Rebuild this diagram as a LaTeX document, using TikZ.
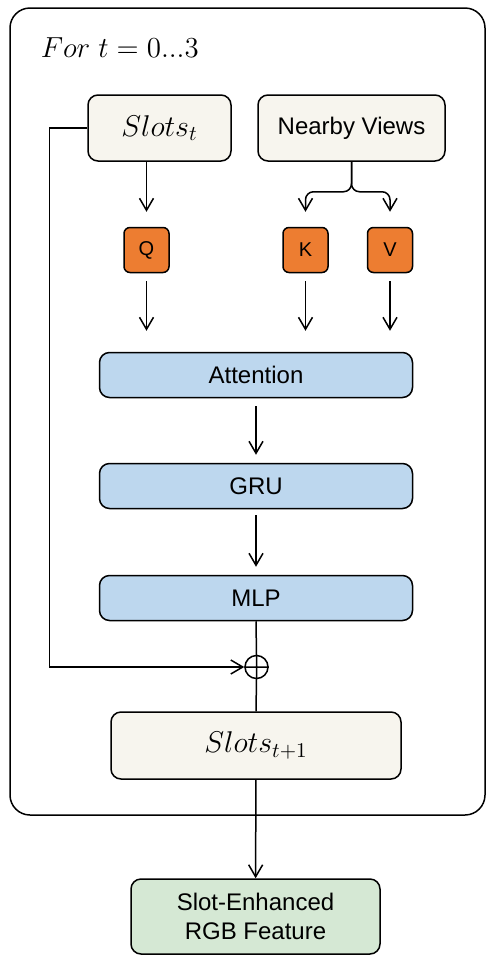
\documentclass[tikz,border=0pt]{standalone}
\usepackage{fix-cm}
\usepackage{fontspec}
\setmainfont{Liberation Sans}
\usetikzlibrary{arrows.meta}
\definecolor{cream}{HTML}{F7F5EE}
\definecolor{lblue}{HTML}{BDD7EE}
\definecolor{orng}{HTML}{ED7D31}
\definecolor{lgreen}{HTML}{D5E8D4}
\begin{document}
\begin{tikzpicture}[x=0.5pt, y=-0.5pt, line width=0.75pt,
>={Straight Barb[length=6pt,width=7pt]},
box/.style = {draw, rounded corners=5pt, align=center,
	font=\fontsize{12}{14.5}\selectfont},
inbox/.style = {box, fill=cream, minimum height=33pt},
layer/.style = {box, fill=lblue, minimum width=156.5pt, minimum height=22.5pt},
token/.style = {draw, rounded corners=3pt, fill=orng, minimum size=22.5pt,
	inner sep=0pt, font=\fontsize{10}{11}\selectfont}]
\useasboundingbox (0,0) rectangle (498,970);
\draw[rounded corners=10pt] (10,8) rectangle (485,815);
\node[anchor=base west, inner sep=0pt, font=\fontsize{14.5}{16}\selectfont] (title) at (40,57) {$For\ t=0...3$};
\node[inbox, minimum width=71.5pt] (slots) at (159.5,128) {\fontsize{15}{17}\selectfont$Slots_t$};
\node[inbox, minimum width=93.5pt] (views) at (351.5,128) {Nearby Views};
\node[token] (q) at (146.5,250) {Q};
\node[token] (k) at (305.5,250) {K};
\node[token] (v) at (390,250) {V};
\node[layer] (attn) at (256,375) {Attention};
\node[layer] (gru) at (256,486) {GRU};
\node[layer] (mlp) at (256,598) {MLP};
\node[circle, draw, minimum size=11.5pt, inner sep=0pt] (plus) at (256.5,667) {};
\node[inbox, minimum width=145pt, minimum height=33.5pt] (next) at (256,745.5) {\fontsize{15}{17}\selectfont$Slots_{t+1}$};
\node[box, fill=lgreen, minimum width=124.5pt, minimum height=37.5pt] (feat) at (255.5,916.5) {Slot-Enhanced\\RGB Feature};
% query and key/value branches
\draw[->, shorten >=7.5pt] (slots.south -| q) -- (q.north);
\draw[->, rounded corners=4pt, shorten >=7.5pt] (views.south) -- ++(0,30) -| (k.north);
\draw[->, rounded corners=4pt, shorten >=7.5pt] (views.south) -- ++(0,30) -| (v.north);
\draw[->, shorten <=4pt, shorten >=10.5pt] (q.south) -- (q.south |- attn.north);
\draw[->, shorten <=4pt, shorten >=10.5pt] (k.south) -- (k.south |- attn.north);
\draw[->, shorten <=4pt, shorten >=10.5pt] (v.south) -- (v.south |- attn.north);
\draw[->, shorten <=4pt, shorten >=4pt] (attn) -- (gru);
\draw[->, shorten <=3pt, shorten >=4pt] (gru) -- (mlp);
% residual
\draw (mlp.south) -- (plus.north) (plus.north) -- (plus.south) (plus.west) -- (plus.east)
	(plus.south) -- (next.north);
\draw[->] (slots.west) -- ++(-38,0) |- (plus.west);
\draw[->] (next) -- (feat);
\end{tikzpicture}
\end{document}
